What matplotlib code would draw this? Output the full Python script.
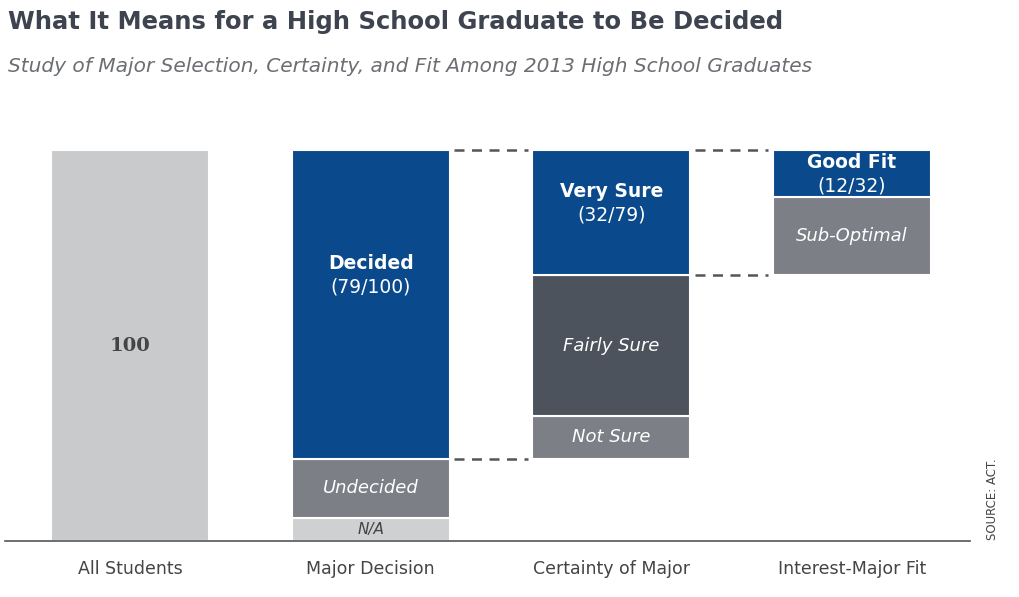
import matplotlib
matplotlib.use("Agg")
import matplotlib.pyplot as plt

categories = ["All Students", "Major Decision", "Certainty of Major", "Interest-Major Fit"]
# segments per column: (bottom, height, label, colour key, style)
all_students = [100]
major_decision = [6, 15, 79]          # N/A, Undecided, Decided
certainty = [11, 36, 32]              # Not Sure, Fairly Sure, Very Sure
fit = [20, 12]                        # Sub-Optimal, Good Fit

LIGHT = "#c9cacc"; BLUE = "#0a4a8c"; DARK = "#4c535c"; MID = "#7c7f85"; NA = "#cfd0d2"

fig = plt.figure(figsize=(10.19, 5.97), dpi=100)
ax = fig.add_axes([5/1019, 1-541/597, 965/1019, (541-120)/597])
W = 0.656
ax.set_xlim(-0.519, 3.49)
ax.set_ylim(0, 107.7)
for s in ax.spines.values():
    s.set_visible(False)
ax.axhline(0, color="#555555", lw=1.2, clip_on=False)
ax.set_yticks([])
ax.set_xticks(range(4))
ax.set_xticklabels(categories, fontsize=12.5, color="#444444")
ax.tick_params(axis="x", length=0, pad=14)

def seg(x, b, h, c, txt=None, style="normal", weight="normal", tc="white", fs=12.5):
    ax.bar(x, h, W, bottom=b, color=c, edgecolor="white", linewidth=1.5)
    if txt:
        ax.text(x, b + h/2, txt, ha="center", va="center", color=tc,
                fontsize=fs, style=style, weight=weight, linespacing=1.3)

seg(0, 0, all_students[0], LIGHT)
ax.text(0, all_students[0]/2, "100", ha="center", va="center", color="#444444",
        fontsize=14, weight="bold", family="DejaVu Serif")

b = 0
seg(1, b, major_decision[0], NA, "N/A", style="italic", tc="#444444", fs=11); b += major_decision[0]
seg(1, b, major_decision[1], MID, "Undecided", style="italic", fs=13); b += major_decision[1]
ax.bar(1, major_decision[2], W, bottom=b, color=BLUE, edgecolor="white", linewidth=1.5)
mid = b + major_decision[2]/2 + 8
ax.text(1, mid + 2.5, "Decided", ha="center", va="center", color="white", fontsize=13.5, weight="bold")
ax.text(1, mid - 3.5, "(79/100)", ha="center", va="center", color="white", fontsize=13.5)
dec_bottom = b
dec_top = b + major_decision[2]

b = dec_bottom
seg(2, b, certainty[0], MID, "Not Sure", style="italic", fs=13); b += certainty[0]
seg(2, b, certainty[1], DARK, "Fairly Sure", style="italic", fs=13); b += certainty[1]
vs_bottom = b
ax.bar(2, certainty[2], W, bottom=b, color=BLUE, edgecolor="white", linewidth=1.5)
m = b + certainty[2]/2 + 3
ax.text(2, m + 2.5, "Very Sure", ha="center", va="center", color="white", fontsize=13.5, weight="bold")
ax.text(2, m - 3.5, "(32/79)", ha="center", va="center", color="white", fontsize=13.5)
vs_top = b + certainty[2]

b = vs_bottom
seg(3, b, fit[0], MID, "Sub-Optimal", style="italic", fs=13); b += fit[0]
ax.bar(3, fit[1], W, bottom=b, color=BLUE, edgecolor="white", linewidth=1.5)
m = b + fit[1]/2
ax.text(3, m + 2.8, "Good Fit", ha="center", va="center", color="white", fontsize=13.5, weight="bold")
ax.text(3, m - 3.2, "(12/32)", ha="center", va="center", color="white", fontsize=13.5)

dash = dict(color="#555555", lw=1.8, ls=(0, (4, 3)))
for x0, y in [(1, dec_top), (1, dec_bottom), (2, vs_top), (2, vs_bottom)]:
    ax.plot([x0 + W/2 + 0.02, x0 + 1 - W/2 - 0.02], [y, y], **dash)

fig.text(8/1019, 1-22/597, "What It Means for a High School Graduate to Be Decided",
         fontsize=17.5, weight="bold", color="#3d4450", va="center")
fig.text(8/1019, 1-66/597, "Study of Major Selection, Certainty, and Fit Among 2013 High School Graduates",
         fontsize=14.5, style="italic", color="#6b6e73", va="center")
fig.text(992/1019, 1-540/597, "SOURCE: ACT.", rotation=90, fontsize=8.5, color="#444444",
         ha="center", va="bottom")
fig.savefig("out.png", dpi=100, facecolor="white")
